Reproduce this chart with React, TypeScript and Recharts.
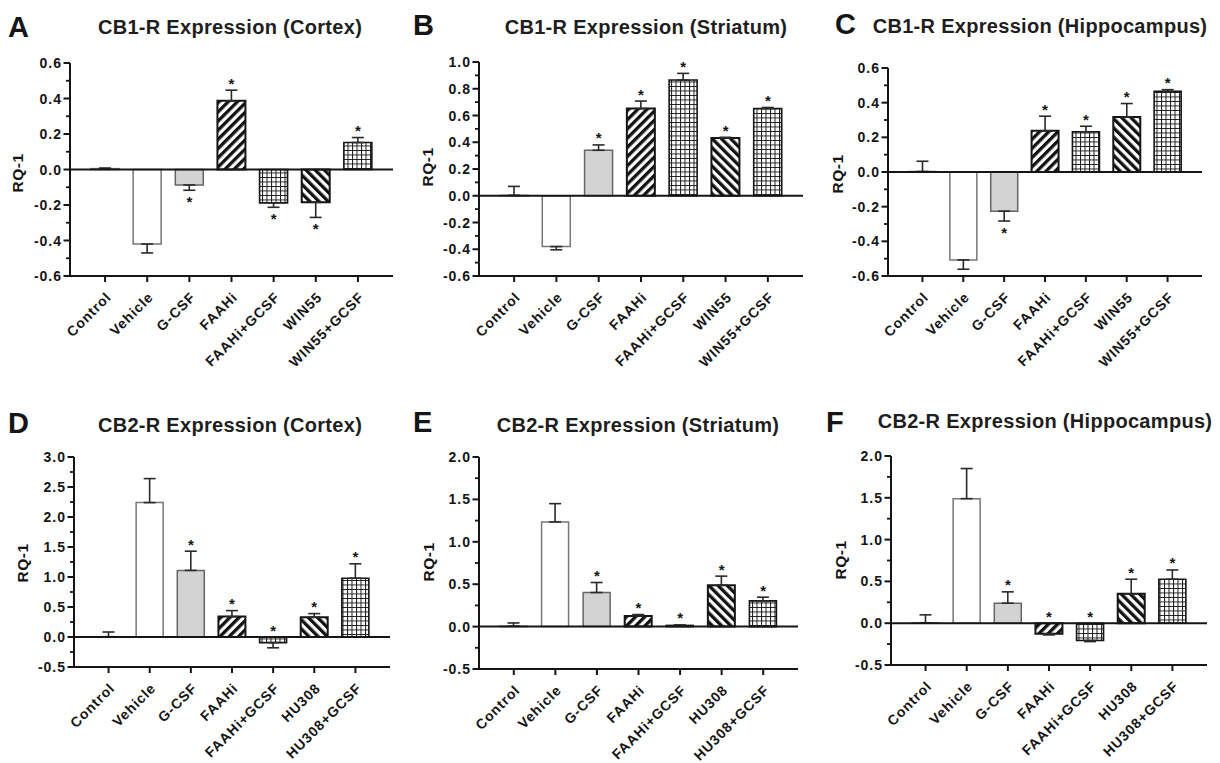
import React from 'react';
import { ComposedChart, Bar, XAxis, YAxis, ErrorBar, Cell, ReferenceLine, Scatter } from 'recharts';

// ---------- data ----------
const categoriesCB1 = ['Control', 'Vehicle', 'G-CSF', 'FAAHi', 'FAAHi+GCSF', 'WIN55', 'WIN55+GCSF'];
const categoriesCB2 = ['Control', 'Vehicle', 'G-CSF', 'FAAHi', 'FAAHi+GCSF', 'HU308', 'HU308+GCSF'];

const valuesA = [0.005, -0.42, -0.087, 0.387, -0.188, -0.185, 0.152];
const errorsA = [0.003, 0.05, 0.03, 0.06, 0.025, 0.085, 0.028];
const starsA = ['', '', 'down', 'up', 'down', 'down', 'up'];

const valuesB = [0.003, -0.38, 0.34, 0.652, 0.865, 0.432, 0.652];
const errorsB = [0.067, 0.024, 0.04, 0.056, 0.05, 0.005, 0.008];
const starsB = ['', '', 'up', 'up', 'up', 'up', 'up'];

const valuesC = [0.003, -0.507, -0.226, 0.238, 0.232, 0.318, 0.465];
const errorsC = [0.059, 0.054, 0.057, 0.084, 0.032, 0.077, 0.01];
const starsC = ['', '', 'down', 'up', 'up', 'up', 'up'];

const valuesD = [0.005, 2.24, 1.11, 0.34, -0.094, 0.33, 0.98];
const errorsD = [0.078, 0.4, 0.32, 0.1, 0.086, 0.06, 0.24];
const starsD = ['', '', 'up', 'up', 'up', 'up', 'up'];

const valuesE = [0.005, 1.234, 0.402, 0.126, 0.014, 0.489, 0.303];
const errorsE = [0.038, 0.216, 0.118, 0.016, 0.006, 0.106, 0.044];
const starsE = ['', '', 'up', 'up', 'up', 'up', 'up'];

const valuesF = [0.005, 1.49, 0.239, -0.127, -0.207, 0.351, 0.526];
const errorsF = [0.095, 0.36, 0.136, 0.013, 0.013, 0.175, 0.111];
const starsF = ['', '', 'up', 'up', 'up', 'up', 'up'];

const ticksA = [-0.6, -0.4, -0.2, 0, 0.2, 0.4, 0.6];
const ticksB = [-0.6, -0.4, -0.2, 0, 0.2, 0.4, 0.6, 0.8, 1.0];
const ticksC = [-0.6, -0.4, -0.2, 0, 0.2, 0.4, 0.6];
const ticksD = [-0.5, 0, 0.5, 1.0, 1.5, 2.0, 2.5, 3.0];
const ticksE = [-0.5, 0, 0.5, 1.0, 1.5, 2.0];
const ticksF = [-0.5, 0, 0.5, 1.0, 1.5, 2.0];

const titleA = 'CB1-R Expression (Cortex)';
const titleB = 'CB1-R Expression (Striatum)';
const titleC = 'CB1-R Expression (Hippocampus)';
const titleD = 'CB2-R Expression (Cortex)';
const titleE = 'CB2-R Expression (Striatum)';
const titleF = 'CB2-R Expression (Hippocampus)';
const yLabel = 'RQ-1';

// ---------- styles ----------
const FONT = '"Liberation Sans", Arial, Helvetica, sans-serif';
const INK = '#151515';

const barStyles = [
  { fill: '#ffffff', stroke: '#777777', strokeWidth: 1.5 },
  { fill: '#ffffff', stroke: '#777777', strokeWidth: 1.5 },
  { fill: '#d3d3d3', stroke: '#666666', strokeWidth: 1.5 },
  { fill: 'url(#hatchFwd)', stroke: INK, strokeWidth: 2 },
  { fill: 'url(#hatchGrid)', stroke: INK, strokeWidth: 1.6 },
  { fill: 'url(#hatchBack)', stroke: INK, strokeWidth: 2 },
  { fill: 'url(#hatchGrid)', stroke: INK, strokeWidth: 1.6 },
];

function buildRows(categories: string[], values: number[], errors: number[], stars: string[]) {
  return categories.map((name, i) => {
    const v = values[i];
    const e = errors[i];
    const up = v >= 0;
    const end = up ? v + e : v - e;
    const s = stars[i];
    return {
      name,
      value: v,
      errRange: up ? [0, e] : [e, 0],
      star: s,
      starAt: s === 'up' ? Math.max(end, 0) : s === 'down' ? Math.min(end, 0) : v,
    };
  });
}

function withMinor(majors: number[]) {
  const out: number[] = [];
  for (let i = 0; i < majors.length; i++) {
    out.push(majors[i]);
    if (i < majors.length - 1) out.push((majors[i] + majors[i + 1]) / 2);
  }
  return out;
}

const StarShape = (props: any) => {
  const { cx, cy, payload } = props;
  if (!payload || !payload.star || cx == null || cy == null) return <g />;
  const yy = payload.star === 'up' ? cy - 1.5 : cy + 16.5;
  return (
    <text x={cx} y={yy} textAnchor="middle" fontSize={15} fontWeight="bold" fontFamily={FONT} fill={INK}>
      *
    </text>
  );
};

const XTick = (props: any) => {
  const { x, y, payload } = props;
  return (
    <g transform={`translate(${x + 7},${y + 14})`}>
      <text
        textAnchor="end"
        transform="rotate(-45)"
        fontSize={14}
        fontWeight="bold"
        fontFamily={FONT}
        letterSpacing={0.9}
        fill={INK}
      >
        {payload.value}
      </text>
    </g>
  );
};

const makeYTick = (majors: number[]) => (props: any) => {
  const { x, y, payload } = props;
  const v = payload.value;
  const isMajor = majors.some((m) => Math.abs(m - v) < 1e-6);
  if (!isMajor) {
    return <line x1={x - 4} x2={x} y1={y} y2={y} stroke={INK} strokeWidth={1.8} />;
  }
  return (
    <g>
      <line x1={x - 6.5} x2={x} y1={y} y2={y} stroke={INK} strokeWidth={2} />
      <text
        x={x - 8}
        y={y}
        dy="0.36em"
        textAnchor="end"
        fontSize={14}
        fontWeight="bold"
        fontFamily={FONT}
        letterSpacing={1}
        fill={INK}
      >
        {v.toFixed(1)}
      </text>
    </g>
  );
};

type Layout = { x0: number; xEnd: number; yTop: number; yBot: number; barSize: number; xH: number };

function Panel({ rows, majors, layout }: { rows: any[]; majors: number[]; layout: Layout }) {
  const { x0, xEnd, yTop, yBot, barSize, xH } = layout;
  const axisW = 60;
  const mTop = 12;
  const mRight = 6;
  const left = x0 - axisW;
  const top = yTop - mTop;
  const width = xEnd - x0 + axisW + mRight;
  const height = yBot - yTop + mTop + xH;
  const allTicks = withMinor(majors);
  return (
    <div style={{ position: 'absolute', left, top, width, height }}>
      <ComposedChart
        width={width}
        height={height}
        data={rows}
        margin={{ top: mTop, right: mRight, left: 0, bottom: 0 }}
      >
        <XAxis
          dataKey="name"
          type="category"
          interval={0}
          padding={{ left: 14, right: 14 }}
          height={xH}
          tickSize={6}
          tickMargin={2}
          tickLine={{ stroke: INK, strokeWidth: 2 }}
          axisLine={{ stroke: INK, strokeWidth: 2 }}
          tick={XTick}
        />
        <YAxis
          type="number"
          domain={[majors[0], majors[majors.length - 1]]}
          ticks={allTicks}
          interval={0}
          allowDataOverflow
          width={axisW}
          tickLine={false}
          tickSize={0}
          tickMargin={0}
          axisLine={{ stroke: INK, strokeWidth: 2 }}
          tick={makeYTick(majors)}
        />
        <Bar dataKey="value" barSize={barSize} isAnimationActive={false}>
          {rows.map((r, i) => (
            <Cell key={r.name} fill={barStyles[i].fill} stroke={barStyles[i].stroke} strokeWidth={barStyles[i].strokeWidth} />
          ))}
          <ErrorBar dataKey="errRange" width={6} stroke="#2a2a2a" strokeWidth={1.6} direction="y" />
        </Bar>
        <ReferenceLine y={0} stroke={INK} strokeWidth={2} />
        <Scatter dataKey="starAt" isAnimationActive={false} shape={StarShape} />
      </ComposedChart>
    </div>
  );
}

const rowsA = buildRows(categoriesCB1, valuesA, errorsA, starsA);
const rowsB = buildRows(categoriesCB1, valuesB, errorsB, starsB);
const rowsC = buildRows(categoriesCB1, valuesC, errorsC, starsC);
const rowsD = buildRows(categoriesCB2, valuesD, errorsD, starsD);
const rowsE = buildRows(categoriesCB2, valuesE, errorsE, starsE);
const rowsF = buildRows(categoriesCB2, valuesF, errorsF, starsF);

const layoutA: Layout = { x0: 70, xEnd: 393, yTop: 63, yBot: 276, barSize: 28, xH: 130 };
const layoutB: Layout = { x0: 479, xEnd: 803, yTop: 62, yBot: 276, barSize: 28, xH: 130 };
const layoutC: Layout = { x0: 888, xEnd: 1202, yTop: 68, yBot: 276, barSize: 27, xH: 130 };
const layoutD: Layout = { x0: 74, xEnd: 390, yTop: 457, yBot: 667, barSize: 27, xH: 96 };
const layoutE: Layout = { x0: 479, xEnd: 798, yTop: 457, yBot: 669, barSize: 27, xH: 94 };
const layoutF: Layout = { x0: 891, xEnd: 1207, yTop: 456, yBot: 665, barSize: 27, xH: 98 };

const headers = [
  { letter: 'A', lx: 8, ly: 37, title: titleA, tx: 230, ty: 34, rx: 17, ry: 173 },
  { letter: 'B', lx: 413, ly: 35, title: titleB, tx: 646, ty: 34, rx: 427, ry: 167 },
  { letter: 'C', lx: 835, ly: 33.5, title: titleC, tx: 1040, ty: 33, rx: 837, ry: 174 },
  { letter: 'D', lx: 8, ly: 433, title: titleD, tx: 230, ty: 432, rx: 22, ry: 563 },
  { letter: 'E', lx: 413, ly: 432, title: titleE, tx: 638, ty: 432, rx: 428, ry: 562 },
  { letter: 'F', lx: 826, ly: 432, title: titleF, tx: 1045, ty: 428, rx: 840, ry: 560 },
];

export default function App() {
  return (
    <div style={{ position: 'absolute', left: 0, top: 0, width: 1220, height: 763, background: '#ffffff', overflow: 'hidden' }}>
      <svg width={0} height={0} style={{ position: 'absolute' }}>
        <defs>
          <pattern id="hatchFwd" patternUnits="userSpaceOnUse" width={6.5} height={6.5} patternTransform="rotate(45)">
            <rect width={6.5} height={6.5} fill="#ffffff" />
            <rect x={0} y={0} width={3.3} height={6.5} fill="#111111" />
          </pattern>
          <pattern id="hatchBack" patternUnits="userSpaceOnUse" width={6.5} height={6.5} patternTransform="rotate(-45)">
            <rect width={6.5} height={6.5} fill="#ffffff" />
            <rect x={0} y={0} width={3.3} height={6.5} fill="#111111" />
          </pattern>
          <pattern id="hatchGrid" patternUnits="userSpaceOnUse" width={4.5} height={4.5}>
            <rect width={4.5} height={4.5} fill="#ffffff" />
            <path d="M0 0.5 H4.5 M0.5 0 V4.5" stroke="#1a1a1a" strokeWidth={1} />
          </pattern>
        </defs>
      </svg>
      <Panel rows={rowsA} majors={ticksA} layout={layoutA} />
      <Panel rows={rowsB} majors={ticksB} layout={layoutB} />
      <Panel rows={rowsC} majors={ticksC} layout={layoutC} />
      <Panel rows={rowsD} majors={ticksD} layout={layoutD} />
      <Panel rows={rowsE} majors={ticksE} layout={layoutE} />
      <Panel rows={rowsF} majors={ticksF} layout={layoutF} />
      <svg width={1220} height={763} style={{ position: 'absolute', left: 0, top: 0, pointerEvents: 'none' }}>
        {headers.map((h) => (
          <g key={h.letter}>
            <text x={h.lx} y={h.ly} fontSize={29} fontWeight="bold" fontFamily={FONT} fill={INK}>
              {h.letter}
            </text>
            <text x={h.tx} y={h.ty} textAnchor="middle" fontSize={20} fontWeight="bold" fontFamily={FONT} letterSpacing={0.3} fill="#1e1e1e">
              {h.title}
            </text>
            <text
              x={h.rx}
              y={h.ry}
              textAnchor="middle"
              dominantBaseline="central"
              transform={`rotate(-90, ${h.rx}, ${h.ry})`}
              fontSize={15.5}
              fontWeight="bold"
              fontFamily={FONT}
              letterSpacing={0.5}
              fill={INK}
            >
              {yLabel}
            </text>
          </g>
        ))}
      </svg>
    </div>
  );
}
